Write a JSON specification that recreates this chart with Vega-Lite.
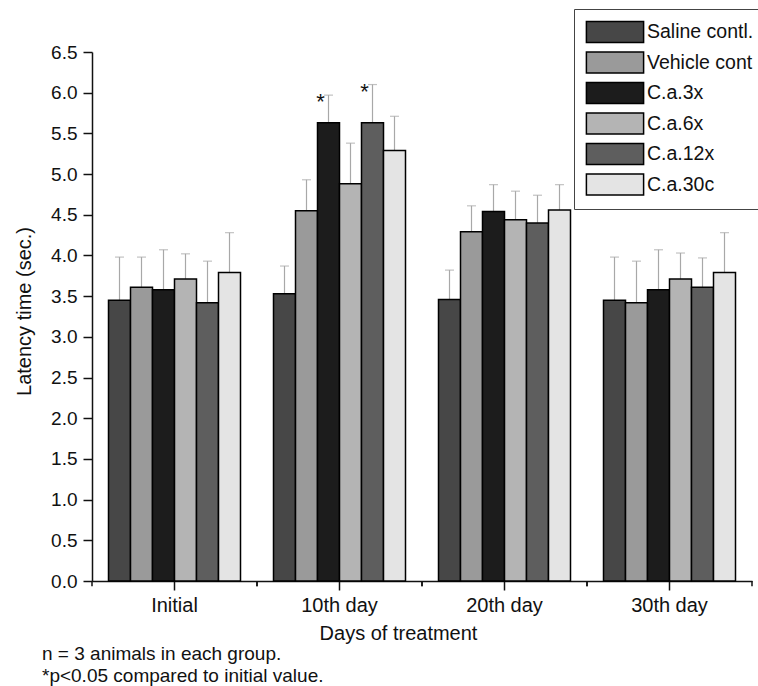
{
  "$schema": "https://vega.github.io/schema/vega-lite/v6.json",
  "width": 660,
  "height": 529,
  "autosize": "none",
  "padding": {"left": 92, "top": 52, "right": 6, "bottom": 105},
  "background": "white",
  "config": {
    "font": "Liberation Sans",
    "view": {"stroke": null},
    "axis": {"labelColor": "#111", "titleColor": "#111", "domainColor": "#111", "tickColor": "#111", "domainWidth": 1.5, "tickWidth": 1.5, "titleFontWeight": "normal", "grid": false}
  },
  "title": {
    "text": ["n = 3 animals in each group.", "*p<0.05 compared to initial value."],
    "orient": "bottom",
    "anchor": "start",
    "frame": "group",
    "dx": -50,
    "offset": 2,
    "fontSize": 19,
    "fontWeight": "normal",
    "lineHeight": 22,
    "color": "#111"
  },
  "datasets": {
    "bars": [
      {"day": "Initial", "group": "Saline contl.", "value": 3.45, "upper": 3.98, "sig": ""},
      {"day": "Initial", "group": "Vehicle cont", "value": 3.61, "upper": 3.98, "sig": ""},
      {"day": "Initial", "group": "C.a.3x", "value": 3.58, "upper": 4.07, "sig": ""},
      {"day": "Initial", "group": "C.a.6x", "value": 3.71, "upper": 4.02, "sig": ""},
      {"day": "Initial", "group": "C.a.12x", "value": 3.42, "upper": 3.93, "sig": ""},
      {"day": "Initial", "group": "C.a.30c", "value": 3.79, "upper": 4.28, "sig": ""},
      {"day": "10th day", "group": "Saline contl.", "value": 3.53, "upper": 3.87, "sig": ""},
      {"day": "10th day", "group": "Vehicle cont", "value": 4.55, "upper": 4.93, "sig": ""},
      {"day": "10th day", "group": "C.a.3x", "value": 5.63, "upper": 5.97, "sig": "*"},
      {"day": "10th day", "group": "C.a.6x", "value": 4.88, "upper": 5.38, "sig": ""},
      {"day": "10th day", "group": "C.a.12x", "value": 5.63, "upper": 6.1, "sig": "*"},
      {"day": "10th day", "group": "C.a.30c", "value": 5.29, "upper": 5.71, "sig": ""},
      {"day": "20th day", "group": "Saline contl.", "value": 3.46, "upper": 3.82, "sig": ""},
      {"day": "20th day", "group": "Vehicle cont", "value": 4.29, "upper": 4.61, "sig": ""},
      {"day": "20th day", "group": "C.a.3x", "value": 4.54, "upper": 4.87, "sig": ""},
      {"day": "20th day", "group": "C.a.6x", "value": 4.44, "upper": 4.79, "sig": ""},
      {"day": "20th day", "group": "C.a.12x", "value": 4.4, "upper": 4.74, "sig": ""},
      {"day": "20th day", "group": "C.a.30c", "value": 4.56, "upper": 4.87, "sig": ""},
      {"day": "30th day", "group": "Saline contl.", "value": 3.45, "upper": 3.98, "sig": ""},
      {"day": "30th day", "group": "Vehicle cont", "value": 3.42, "upper": 3.93, "sig": ""},
      {"day": "30th day", "group": "C.a.3x", "value": 3.58, "upper": 4.07, "sig": ""},
      {"day": "30th day", "group": "C.a.6x", "value": 3.71, "upper": 4.03, "sig": ""},
      {"day": "30th day", "group": "C.a.12x", "value": 3.61, "upper": 3.97, "sig": ""},
      {"day": "30th day", "group": "C.a.30c", "value": 3.79, "upper": 4.28, "sig": ""}
    ],
    "days": [
      {"day": "Initial"}, {"day": "10th day"}, {"day": "20th day"}, {"day": "30th day"}
    ]
  },
  "layer": [
    {
      "data": {"name": "bars"},
      "mark": {"type": "rule", "color": "#a8a8a8", "strokeWidth": 1.2},
      "encoding": {
        "x": {
          "field": "day", "type": "nominal",
          "sort": ["Initial", "10th day", "20th day", "30th day"],
          "scale": {"paddingInner": 0, "paddingOuter": 0},
          "axis": {
            "title": "Days of treatment",
            "titleFontSize": 20,
            "titleX": 306,
            "titleY": 52,
            "titleBaseline": "middle",
            "labelFontSize": 20,
            "labelAngle": 0,
            "labelPadding": 5,
            "tickSize": 9
          }
        },
        "xOffset": {"field": "group", "type": "nominal", "sort": ["Saline contl.", "Vehicle cont", "C.a.3x", "C.a.6x", "C.a.12x", "C.a.30c"], "scale": {"paddingInner": 0, "paddingOuter": 0.75}},
        "y": {"field": "value", "type": "quantitative"},
        "y2": {"field": "upper"}
      }
    },
    {
      "data": {"name": "bars"},
      "mark": {"type": "tick", "orient": "horizontal", "size": 9, "thickness": 1.2, "color": "#a8a8a8"},
      "encoding": {
        "x": {"field": "day", "type": "nominal", "sort": ["Initial", "10th day", "20th day", "30th day"]},
        "xOffset": {"field": "group", "type": "nominal", "sort": ["Saline contl.", "Vehicle cont", "C.a.3x", "C.a.6x", "C.a.12x", "C.a.30c"]},
        "y": {"field": "upper", "type": "quantitative"}
      }
    },
    {
      "data": {"name": "bars"},
      "mark": {"type": "bar", "stroke": "#000", "strokeWidth": 1.5},
      "encoding": {
        "x": {"field": "day", "type": "nominal", "sort": ["Initial", "10th day", "20th day", "30th day"]},
        "xOffset": {"field": "group", "type": "nominal", "sort": ["Saline contl.", "Vehicle cont", "C.a.3x", "C.a.6x", "C.a.12x", "C.a.30c"]},
        "y": {
          "field": "value", "type": "quantitative",
          "scale": {"domain": [0, 6.5], "nice": false, "zero": true},
          "axis": {
            "title": "Latency time (sec.)",
            "titleFontSize": 20,
            "titleX": -68,
            "titleY": 259,
            "titleAngle": -90,
            "titleBaseline": "middle",
            "titleAlign": "center",
            "labelFontSize": 19,
            "labelPadding": 6,
            "values": [0, 0.25, 0.5, 0.75, 1, 1.25, 1.5, 1.75, 2, 2.25, 2.5, 2.75, 3, 3.25, 3.5, 3.75, 4, 4.25, 4.5, 4.75, 5, 5.25, 5.5, 5.75, 6, 6.25, 6.5],
            "labelExpr": "(datum.value * 2) % 1 == 0 ? format(datum.value, '.1f') : ''",
            "tickSize": {"condition": {"test": "(datum.value * 2) % 1 == 0", "value": 9}, "value": 5}
          }
        },
        "fill": {
          "field": "group", "type": "nominal",
          "sort": ["Saline contl.", "Vehicle cont", "C.a.3x", "C.a.6x", "C.a.12x", "C.a.30c"],
          "scale": {
            "domain": ["Saline contl.", "Vehicle cont", "C.a.3x", "C.a.6x", "C.a.12x", "C.a.30c"],
            "range": ["#474747", "#9a9a9a", "#1c1c1c", "#b4b4b4", "#5e5e5e", "#e4e4e4"]
          },
          "legend": {
            "title": null,
            "orient": "none",
            "legendX": 482,
            "legendY": -43,
            "padding": 11,
            "strokeColor": "#444",
            "fillColor": "white",
            "symbolType": "M-2.6,-0.95H2.6V0.95H-2.6Z",
            "symbolSize": 484,
            "symbolOffset": 18,
            "symbolStrokeColor": "#000",
            "symbolStrokeWidth": 1.5,
            "symbolOpacity": 1,
            "labelFontSize": 19.5,
            "labelColor": "#111",
            "labelOffset": 20,
            "rowPadding": 2.5,
            "labelLimit": 200
          }
        }
      }
    },
    {
      "data": {"name": "days"},
      "mark": {"type": "rule", "color": "#111", "strokeWidth": 1.5},
      "encoding": {
        "x": {"field": "day", "type": "nominal", "sort": ["Initial", "10th day", "20th day", "30th day"], "bandPosition": 0},
        "y": {"datum": 0},
        "y2": {"datum": -0.065}
      }
    },
    {
      "data": {"name": "days"},
      "mark": {"type": "rule", "color": "#111", "strokeWidth": 1.5},
      "encoding": {
        "x": {"field": "day", "type": "nominal", "sort": ["Initial", "10th day", "20th day", "30th day"], "bandPosition": 1},
        "y": {"datum": 0},
        "y2": {"datum": -0.065}
      }
    },
    {
      "data": {"name": "bars"},
      "transform": [{"filter": "datum.sig == '*'"}],
      "mark": {"type": "text", "fontSize": 22, "dx": -8, "dy": 7, "baseline": "middle", "color": "#111"},
      "encoding": {
        "x": {"field": "day", "type": "nominal", "sort": ["Initial", "10th day", "20th day", "30th day"]},
        "xOffset": {"field": "group", "type": "nominal", "sort": ["Saline contl.", "Vehicle cont", "C.a.3x", "C.a.6x", "C.a.12x", "C.a.30c"]},
        "y": {"field": "upper", "type": "quantitative"},
        "text": {"field": "sig"}
      }
    }
  ]
}
